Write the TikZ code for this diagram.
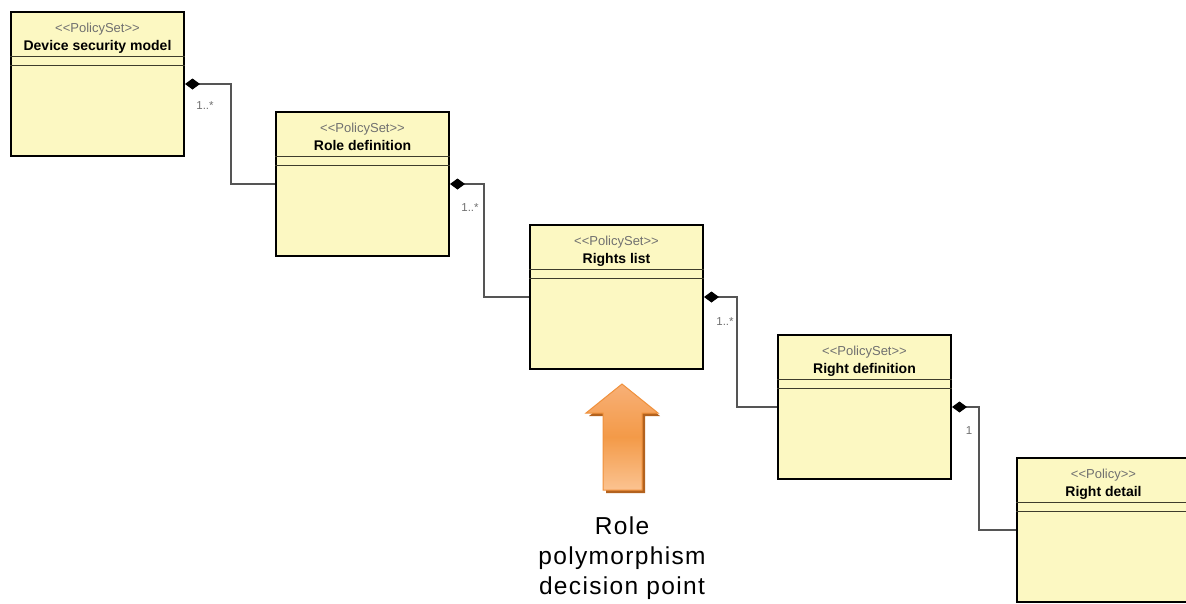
\documentclass[tikz,border=0pt]{standalone}
\usepackage{fontspec}
\setmainfont{Liberation Sans}
\usetikzlibrary{arrows.meta,calc}

\definecolor{classfill}{HTML}{FCF8C2}
\definecolor{sepline}{HTML}{3E3D2C}
\definecolor{assocgray}{HTML}{555555}
\definecolor{stereogray}{HTML}{707070}
\definecolor{arrowedge}{HTML}{F0913C}
\definecolor{arrowshadow}{HTML}{B3621E}
\definecolor{arrowtop}{HTML}{F8B077}
\definecolor{arrowmid}{HTML}{F39A48}
\definecolor{arrowbot}{HTML}{FBC391}

\newcommand{\guil}[1]{<\kern0pt<#1>\kern0pt>}

% one UML class box: name, centre, stereotype, title
\newcommand{\umlclass}[4]{%
  \node[classbox] (#1) at (#2) {};
  \draw[sepline] ([yshift=-45.5pt]#1.north west) -- ([yshift=-45.5pt]#1.north east);
  \draw[sepline] ([yshift=-54.5pt]#1.north west) -- ([yshift=-54.5pt]#1.north east);
  \node[stereo, anchor=base] (#1-st) at ([yshift=-21pt]#1.north) {\guil{#3}};
  \node[classname, anchor=base] (#1-nm) at ([yshift=-39pt]#1.north) {#4};
}

\begin{document}
\begin{tikzpicture}[x=1pt,y=-1pt,
  classbox/.style={draw=black, line width=2pt, fill=classfill,
    minimum width=173pt, minimum height=144pt, inner sep=0pt},
  sepline/.style={draw=sepline, line width=1.3pt},
  stereo/.style={text=stereogray, font=\fontsize{13}{15}\selectfont, inner sep=0pt},
  classname/.style={text=black, font=\fontsize{14}{16}\selectfont\bfseries, inner sep=0pt},
  assoc/.style={draw=assocgray, line width=1.3pt,
    {Diamond[length=15pt,width=11pt,fill=black,color=black]}-},
  mult/.style={text=stereogray, font=\fontsize{11.5}{13}\selectfont, inner sep=0pt},
  caption/.style={align=center, inner sep=0pt,
    font=\fontsize{24.5}{30}\selectfont\addfontfeature{LetterSpace=5.5}}
]
\useasboundingbox (0,0) rectangle (1186,603);
\clip (0,0) rectangle (1186,603);
\fill[white] (0,0) rectangle (1186,603);

\umlclass{b1}{97.5,84}{PolicySet}{Device security model}
\umlclass{b2}{362.5,184}{PolicySet}{Role definition}
\umlclass{b3}{616.5,297}{PolicySet}{Rights list}
\umlclass{b4}{864.5,407}{PolicySet}{Right definition}
\umlclass{b5}{1103.5,530}{Policy}{Right detail}

% bend points of the compositions
\coordinate (k1) at (231,84);
\coordinate (k2) at (484,184);
\coordinate (k3) at (737,297);
\coordinate (k4) at (979,407);

\draw[assoc] (b1.east) -- (k1) |- (b2.west);
\draw[assoc] (b2.east) -- (k2) |- (b3.west);
\draw[assoc] (b3.east) -- (k3) |- (b4.west);
\draw[assoc] (b4.east) -- (k4) |- (b5.west);

\node[mult] (m1) at (205,106) {1..*};
\node[mult] (m2) at (470,208) {1..*};
\node[mult] (m3) at (725,322) {1..*};
\node[mult] (m4) at (969,431) {1};

% block arrow pointing at the rights list
\fill[arrowshadow] (625,388) -- (660,416) -- (645,416) -- (645,493)
  -- (606,493) -- (606,416) -- (589,416) -- cycle;
\shade[top color=arrowtop, bottom color=arrowbot, middle color=arrowmid,
  draw=arrowedge, line width=1pt, line join=miter]
  (622,384) -- (658,413) -- (642,413) -- (642,490)
  -- (603,490) -- (603,413) -- (586,413) -- cycle;

\node[caption] (cap) at (622,558) {Role\\polymorphism\\decision point};
\end{tikzpicture}
\end{document}
